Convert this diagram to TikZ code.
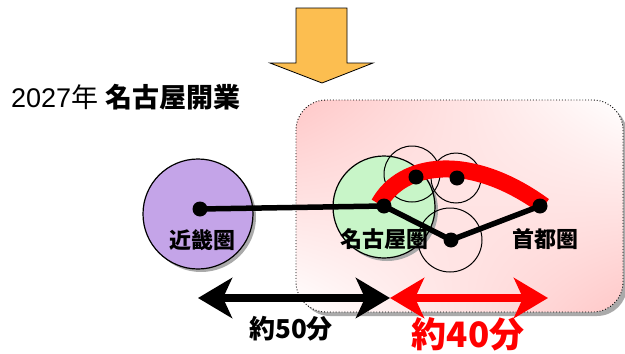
\documentclass[tikz,border=0pt]{standalone}
\usepackage{fontspec}
\setmainfont{Liberation Sans}
\newfontfamily\jp{Noto Sans CJK JP}
\usetikzlibrary{arrows.meta,shadows,shadings}
\definecolor{arrorange}{RGB}{252,190,80}
\definecolor{kinki}{RGB}{196,164,232}
\definecolor{nagoya}{RGB}{200,245,200}
\definecolor{boxpink}{RGB}{255,200,200}
\definecolor{shadowgray}{RGB}{170,170,170}
\tikzset{
  region/.style={circle,draw=black,line width=1.2pt,inner sep=0pt,
    drop shadow={shadow xshift=3pt,shadow yshift=-3pt,fill=shadowgray,opacity=1}},
  ring/.style={circle,draw=black,line width=1pt,inner sep=0pt},
  stop/.style={circle,fill=black,inner sep=0pt,minimum size=15pt},
  lbl/.style={font=\jp\bfseries\fontsize{22}{22}\selectfont,inner sep=0pt},
  route/.style={line width=5.5pt,black},
  dbl/.style={line width=8pt,{Stealth[length=34pt,width=40pt,inset=9pt]}-{Stealth[length=34pt,width=40pt,inset=9pt]}}
}
\begin{document}
\begin{tikzpicture}[x=1pt,y=-1pt]
\useasboundingbox (0,0) rectangle (625,354);
% top arrow
\filldraw[fill=arrorange,draw=black,line width=0.8pt]
  (296,8) -- (347,8) -- (347,63) -- (373,63) -- (322,83) -- (270,63) -- (296,63) -- cycle;
% title
\node[anchor=west,inner sep=0pt] (title) at (11,97)
  {\fontsize{27}{27}\selectfont 2027{\jp 年} {\jp\bfseries 名古屋開業}};
% box shadow
\fill[shadowgray,rounded corners=30pt] (300,104) rectangle (627,316);
% box
\shade[upper left=boxpink,lower right=boxpink,upper right=white,lower left=white,rounded corners=30pt]
  (296,100) rectangle (623,312);
\draw[dotted,line width=0.9pt,rounded corners=30pt] (296,100) rectangle (623,312);
% regions
\node[region,fill=kinki,minimum width=110pt,minimum height=110pt] (kinki) at (198,214) {};
\node[region,fill=nagoya,minimum size=102pt] (nagoya) at (384,207) {};
\node[ring,minimum size=56pt] (r1) at (412,174) {};
\node[ring,minimum size=50pt] (r2) at (456,178) {};
\node[ring,minimum size=64pt] (r3) at (450,240) {};
% stops
\coordinate (sK) at (200,209);
\coordinate (sN) at (384,206);
\coordinate (s1) at (416,177);
\coordinate (s2) at (457,178);
\coordinate (sL) at (451,240);
\coordinate (sT) at (540,206);
% red maglev line
\draw[red,line width=17pt] (379,204) .. controls (402,162) and (470,152) .. (544,206);
% routes
\draw[route] (sK) -- (sN) -- (sL) -- (sT);
\node[stop] (dK) at (sK) {};
\node[stop] (dN) at (sN) {};
\node[stop] (d1) at (s1) {};
\node[stop] (d2) at (s2) {};
\node[stop] (dL) at (sL) {};
\node[stop] (dT) at (sT) {};
% labels
\node[lbl] (lK) at (202,240) {近畿圏};
\node[lbl] (lN) at (384,239) {名古屋圏};
\node[lbl] (lT) at (545,239) {首都圏};
% time arrows
\coordinate (aL) at (198,298);
\coordinate (aM) at (390,298);
\coordinate (aR) at (548,298);
\draw[dbl,black] (aL) -- (aM);
\draw[dbl,red] (aM) -- (aR);
\node[font=\jp\bfseries\fontsize{26}{26}\selectfont,inner sep=0pt] (t50) at (291,329) {約50分};
\node[font=\jp\bfseries\fontsize{35}{35}\selectfont,inner sep=0pt,text=red] (t40) at (468,334) {約40分};
\end{tikzpicture}
\end{document}
